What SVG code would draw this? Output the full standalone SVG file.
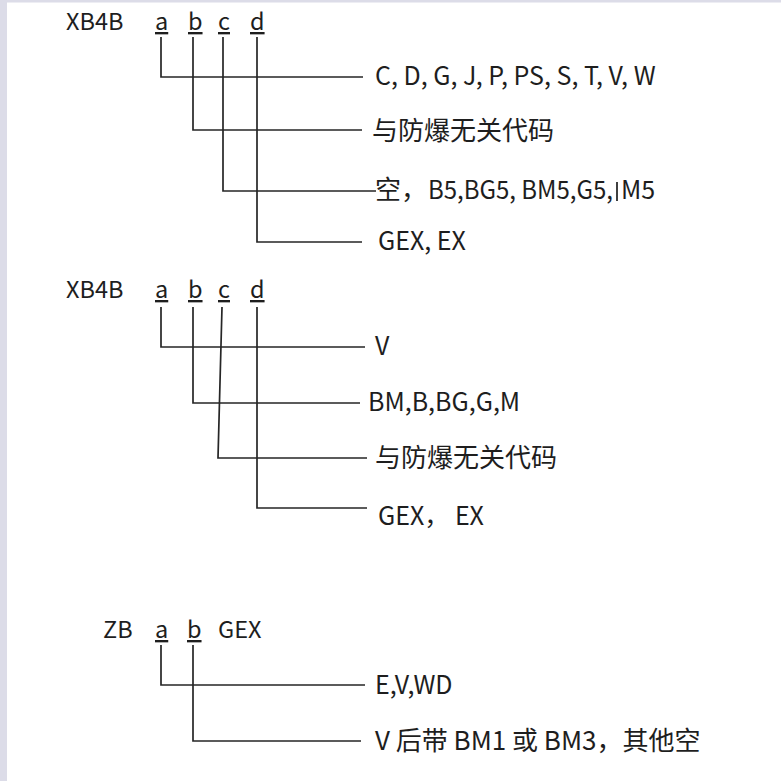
<svg xmlns="http://www.w3.org/2000/svg" width="781" height="781" viewBox="0 0 781 781">
<style>
text{font-family:"Noto Sans CJK SC","Noto Sans",sans-serif;font-size:25px;fill:#1e1e1e}
.h{font-size:23.5px}
.z{font-size:26px}
.u{text-decoration:underline}
.c{fill:none;stroke:#262626;stroke-width:1.7}
</style>
<rect width="781" height="781" fill="#ffffff"/>
<rect x="0" y="0" width="7" height="781" fill="#dcdce8"/>
<rect x="0" y="0" width="781" height="2.5" fill="#dcdce8"/>
<g id="connectors">
<path class="c" d="M161,37V77H363"/>
<path class="c" d="M193,37V130H362"/>
<path class="c" d="M223,37V191H376"/>
<path class="c" d="M257,37V242H362"/>
<path class="c" d="M161,307V347H365"/>
<path class="c" d="M193,307V403H360"/>
<path class="c" d="M222,307L218,458H367"/>
<path class="c" d="M257,307V508H367"/>
<path class="c" d="M161,645V685H365"/>
<path class="c" d="M193,645V741H361"/>
</g>
<g id="header1"><text x="66" y="30" class="h">XB4B</text><text x="155" y="30" class="h u">a</text><text x="188" y="30" class="h u">b</text><text x="218" y="30" class="h u">c</text><text x="250" y="30" class="h u">d</text></g>
<g id="h1a"><text x="375" y="85">C, D, G, J, P, PS, S, T, V, W</text></g>
<g id="h1b"><text x="372" y="140" class="z">与防爆无关代码</text></g>
<g id="h1c"><text x="375" y="199"><tspan class="z">空，</tspan></text><text x="428" y="199" textLength="185" lengthAdjust="spacingAndGlyphs">B5,BG5, BM5,G5,</text><text x="621" y="199">M5</text><line x1="617" y1="182" x2="617" y2="201" stroke="#000" stroke-width="1.5"/></g>
<g id="h1d"><text x="378" y="250">GEX, EX</text></g>
<g id="header2"><text x="66" y="298" class="h">XB4B</text><text x="155" y="298" class="h u">a</text><text x="188" y="298" class="h u">b</text><text x="218" y="298" class="h u">c</text><text x="250" y="298" class="h u">d</text></g>
<g id="h2a"><text x="375" y="355">V</text></g>
<g id="h2b"><text x="368" y="411">BM,B,BG,G,M</text></g>
<g id="h2c"><text x="375" y="467" class="z">与防爆无关代码</text></g>
<g id="h2d"><text x="378" y="525">GEX， EX</text></g>
<g id="header3"><text x="103" y="638" class="h">ZB</text><text x="155" y="638" class="h u">a</text><text x="187" y="638" class="h u">b</text><text x="218" y="638" class="h">GEX</text></g>
<g id="h3a"><text x="375" y="694">E,V,WD</text></g>
<g id="h3b"><text x="375" y="750" class="z">V 后带 BM1 或 BM3，其他空</text></g>
</svg>
